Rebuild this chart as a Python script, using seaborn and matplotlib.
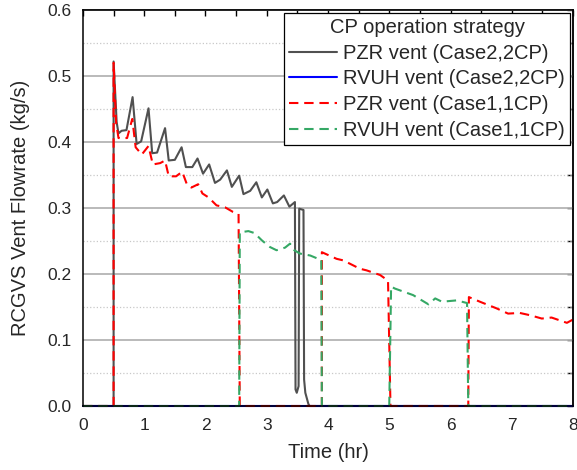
import matplotlib
matplotlib.use('Agg')
import matplotlib.pyplot as plt
import seaborn as sns
import pandas as pd
from matplotlib.ticker import MultipleLocator, NullFormatter

sns.set_style('white')
plt.rcParams['font.family'] = ['Liberation Sans', 'DejaVu Sans']

# PZR vent (Case2,2CP)
pzr2_t = [0, 0.5, 0.5, 0.55, 0.58, 0.63, 0.71, 0.81, 0.876, 0.95, 1.07, 1.13, 1.21, 1.34,
          1.40, 1.50, 1.61, 1.68, 1.785, 1.87, 1.96, 2.06, 2.155, 2.24, 2.35, 2.43, 2.55,
          2.62, 2.73, 2.83, 2.92, 3.01, 3.10, 3.17, 3.28, 3.37, 3.46, 3.47, 3.49, 3.52,
          3.53, 3.60, 3.61, 3.63, 3.68, 3.70, 8.0]
pzr2_v = [0, 0, 0.522, 0.43, 0.413, 0.417, 0.418, 0.468, 0.397, 0.401, 0.451, 0.383, 0.384, 0.421,
          0.372, 0.373, 0.392, 0.362, 0.362, 0.375, 0.352, 0.366, 0.338, 0.343, 0.357, 0.332, 0.349,
          0.321, 0.326, 0.339, 0.316, 0.328, 0.307, 0.309, 0.319, 0.302, 0.309, 0.025, 0.02, 0.03,
          0.299, 0.297, 0.04, 0.02, 0.003, 0, 0]

# RVUH vent (Case2,2CP)
rvuh2_t = [0, 8.0]
rvuh2_v = [0, 0]

# PZR vent (Case1,1CP)
pzr1_t = [0, 0.5, 0.5, 0.54, 0.58, 0.72, 0.805, 0.86, 0.96, 1.07, 1.14, 1.26, 1.34, 1.40,
          1.52, 1.62, 1.70, 1.77, 1.88, 1.95, 2.05, 2.18, 2.32, 2.45, 2.54, 2.56, 3.90,
          3.90, 4.14, 4.25, 4.52, 4.63, 4.85, 4.98, 5.02, 6.29, 6.30, 6.48, 6.75, 6.94,
          7.13, 7.30, 7.49, 7.65, 7.90, 8.0]
pzr1_v = [0, 0, 0.52, 0.43, 0.406, 0.406, 0.435, 0.392, 0.381, 0.394, 0.366, 0.368, 0.372, 0.348,
          0.348, 0.355, 0.335, 0.331, 0.336, 0.322, 0.316, 0.304, 0.301, 0.294, 0.291, 0, 0,
          0.233, 0.223, 0.2206, 0.208, 0.2055, 0.1985, 0.19, 0, 0, 0.165, 0.158, 0.148, 0.140,
          0.141, 0.1375, 0.1325, 0.134, 0.126, 0.131]

# RVUH vent (Case1,1CP)
rvuh1_t = [0, 2.55, 2.56, 2.70, 2.80, 2.92, 3.05, 3.16, 3.30, 3.38, 3.45, 3.54, 3.71, 3.84,
           3.89, 3.90, 5.0, 5.03, 5.09, 5.39, 5.64, 5.75, 5.86, 6.10, 6.27, 6.29, 8.0]
rvuh1_v = [0, 0, 0.263, 0.265, 0.262, 0.251, 0.241, 0.236, 0.240, 0.246, 0.236, 0.231, 0.228, 0.223,
           0.222, 0, 0, 0.181, 0.178, 0.168, 0.154, 0.163, 0.158, 0.160, 0.156, 0, 0]

series = [
    ('PZR vent (Case2,2CP)', pzr2_t, pzr2_v, '#505050', None),
    ('RVUH vent (Case2,2CP)', rvuh2_t, rvuh2_v, '#0000ff', None),
    ('PZR vent (Case1,1CP)', pzr1_t, pzr1_v, '#ff0000', (4.5, 2.8)),
    ('RVUH vent (Case1,1CP)', rvuh1_t, rvuh1_v, '#35a865', (4.5, 2.8)),
]

fig = plt.figure(figsize=(5.77, 4.70), dpi=100)
ax = fig.add_axes([0.1438, 0.1362, 0.8493, 0.8425])

for name, t, v, col, dash in series:
    df = pd.DataFrame({'Time': t, 'Flow': v})
    sns.lineplot(data=df, x='Time', y='Flow', ax=ax, sort=False, estimator=None,
                 color=col, lw=1.5, label=name)
    ax.lines[-1].set_clip_on(False)
    if dash is not None:
        ax.lines[-1].set_dashes(dash)

ax.set_xlim(0, 8)
ax.set_ylim(0, 0.6)
ax.xaxis.set_major_locator(MultipleLocator(1))
ax.xaxis.set_minor_locator(MultipleLocator(0.5))
ax.yaxis.set_major_locator(MultipleLocator(0.1))
ax.yaxis.set_minor_locator(MultipleLocator(0.05))
ax.yaxis.set_major_formatter(matplotlib.ticker.FormatStrFormatter('%.1f'))

ax.set_axisbelow(True)
ax.yaxis.grid(True, which='major', color='#b4b4b4', lw=1.3, ls='-')
ax.yaxis.grid(True, which='minor', color='#c8c8c8', lw=0.9, ls=':')
ax.xaxis.grid(False)

ax.tick_params(which='both', direction='out', top=False, right=False, labelsize=12.5, width=1.0, color='black')
ax.tick_params(which='major', length=5)
ax.tick_params(which='minor', length=3)
ax.tick_params(axis='x', pad=4)
ax.tick_params(axis='y', pad=3)

for s in ax.spines.values():
    s.set_color('black')
    s.set_linewidth(1.1)

sec_x = ax.secondary_xaxis('top')
sec_x.xaxis.set_major_locator(MultipleLocator(1))
sec_x.xaxis.set_minor_locator(MultipleLocator(0.5))
sec_x.xaxis.set_major_formatter(NullFormatter())
sec_x.tick_params(which='both', direction='in', length=4, width=1.0, color='black')
sec_x.spines['top'].set_linewidth(1.1)

sec_y = ax.secondary_yaxis('right')
sec_y.yaxis.set_major_locator(MultipleLocator(0.1))
sec_y.yaxis.set_minor_locator(MultipleLocator(0.05))
sec_y.yaxis.set_major_formatter(NullFormatter())
sec_y.tick_params(which='both', direction='in', length=4, width=1.0, color='black')
sec_y.spines['right'].set_linewidth(1.1)

ax.set_xlabel('Time (hr)', fontsize=14.5, labelpad=7)
ax.set_ylabel('RCGVS Vent Flowrate (kg/s)', fontsize=14.5, labelpad=13)

leg = ax.legend(title='CP operation strategy', loc='upper right', bbox_to_anchor=(1, 1),
                fontsize=14.5, title_fontsize=14.5, frameon=True, fancybox=False,
                edgecolor='black', framealpha=1, borderaxespad=0.15, borderpad=0.25,
                labelspacing=0.33, handlelength=2.35, handletextpad=0.33)
leg.get_frame().set_linewidth(0.9)

fig.savefig('out.png', dpi=100)
